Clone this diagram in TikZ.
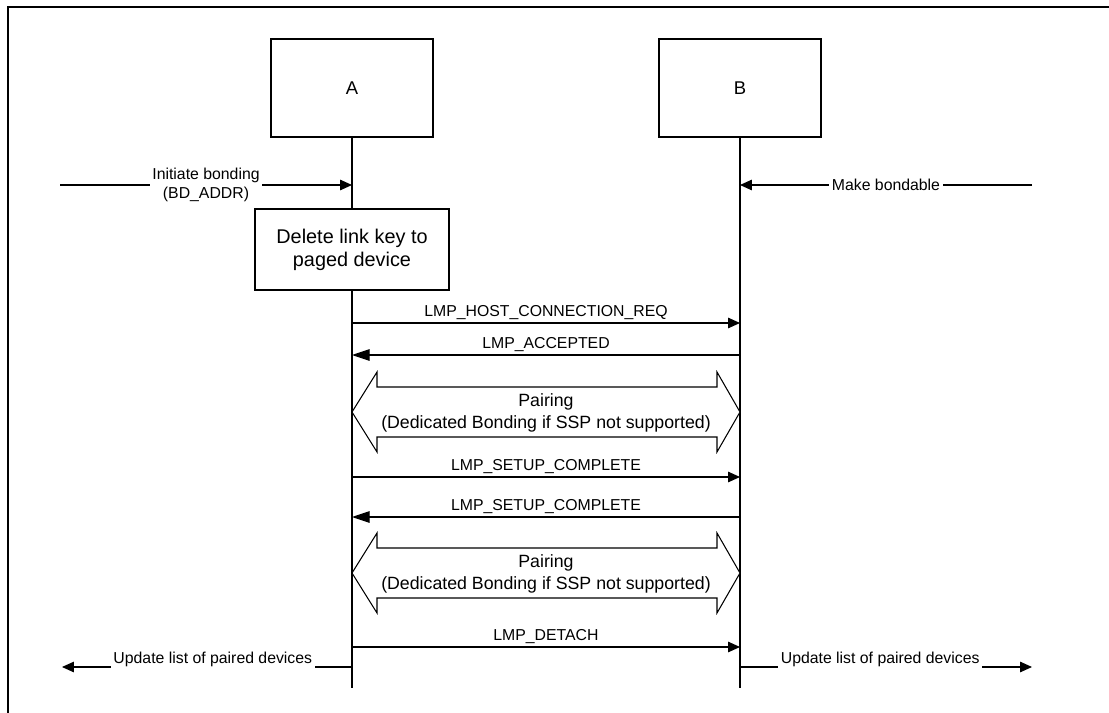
\documentclass[tikz,border=0pt]{standalone}
\usepackage{fontspec}
\setmainfont{Liberation Sans}
\usetikzlibrary{arrows.meta}

\begin{document}
\begin{tikzpicture}[x=0.02cm, y=-0.02cm, line width=0.6pt,
    >={Triangle[length=6.8pt, width=6pt]},
    entity/.style={draw, fill=white, minimum width=3.24cm, minimum height=1.96cm,
                   font=\fontsize{10.5}{12}\selectfont},
    action/.style={draw, fill=white, minimum width=3.88cm, minimum height=1.62cm,
                   align=center, font=\fontsize{11.3}{13}\selectfont},
    msg/.style={above=3.4pt, inner sep=0pt, text depth=0pt, font=\fontsize{9}{10}\selectfont},
    back/.style={{Triangle[length=10pt, width=6.6pt]}-},
    ext/.style={fill=white, inner xsep=1.6pt, inner ysep=1pt, align=center,
                font=\fontsize{9}{10.8}\selectfont},
    pairtext/.style={align=center, inner sep=0pt, font=\fontsize{10.1}{12.5}\selectfont}]

  \useasboundingbox (0,0) rectangle (1109,713);

  % frame
  \draw[line width=1.1pt] (7.7,713) -- (7.7,6.7) -- (1109,6.7);

  % devices and lifelines
  \node[entity] (A) at (352,88) {A};
  \node[entity] (B) at (740,88) {B};

  \coordinate (A-end) at (352,688);
  \coordinate (B-end) at (740,688);

  \draw (A) -- (A-end);
  \draw (B) -- (B-end);

  % host commands
  \coordinate (host-A) at (60,185);
  \coordinate (host-B) at (1032,185);

  \draw[->] (host-A) -- node[ext] {Initiate bonding\\(BD\_ADDR)} (A |- host-A);
  \draw[->] (host-B) -- node[ext] {Make bondable} (B |- host-B);

  \node[action] (del) at (352,249.5) {Delete link key to\\paged device};

  % LMP messages
  \coordinate (req)    at (352,323);
  \coordinate (acc)    at (352,355);
  \coordinate (setup1) at (352,477);
  \coordinate (setup2) at (352,517);
  \coordinate (detach) at (352,647);

  \draw[->]   (req)    -- node[msg] {LMP\_HOST\_CONNECTION\_REQ} (B |- req);
  \draw[back] (acc)    -- node[msg] {LMP\_ACCEPTED}              (B |- acc);
  \draw[->]   (setup1) -- node[msg] {LMP\_SETUP\_COMPLETE}       (B |- setup1);
  \draw[back] (setup2) -- node[msg] {LMP\_SETUP\_COMPLETE}       (B |- setup2);
  \draw[->]   (detach) -- node[msg] {LMP\_DETACH}                (B |- detach);

  % pairing
  \draw[fill=white] (352,412) -- (377,372) -- (377,387) -- (717,387) -- (717,372)
                 -- (740,412) -- (717,452) -- (717,437) -- (377,437) -- (377,452) -- cycle;
  \node[pairtext] (pair1) at (546,413) {Pairing\\(Dedicated Bonding if SSP not supported)};

  \draw[fill=white] (352,573) -- (377,533) -- (377,548) -- (717,548) -- (717,533)
                 -- (740,573) -- (717,613) -- (717,598) -- (377,598) -- (377,613) -- cycle;
  \node[pairtext] (pair2) at (546,574) {Pairing\\(Dedicated Bonding if SSP not supported)};

  % update list
  \coordinate (upd-A) at (352,667);
  \coordinate (upd-B) at (740,667);
  \coordinate (out-A) at (62,667);
  \coordinate (out-B) at (1032,667);

  \draw[->] (upd-A) -- node[ext, inner ysep=2pt, yshift=4.5pt, pos=0.48] {Update list of paired devices} (out-A);
  \draw[->] (upd-B) -- node[ext, inner ysep=2pt, yshift=4.5pt, pos=0.48] {Update list of paired devices} (out-B);

\end{tikzpicture}
\end{document}
